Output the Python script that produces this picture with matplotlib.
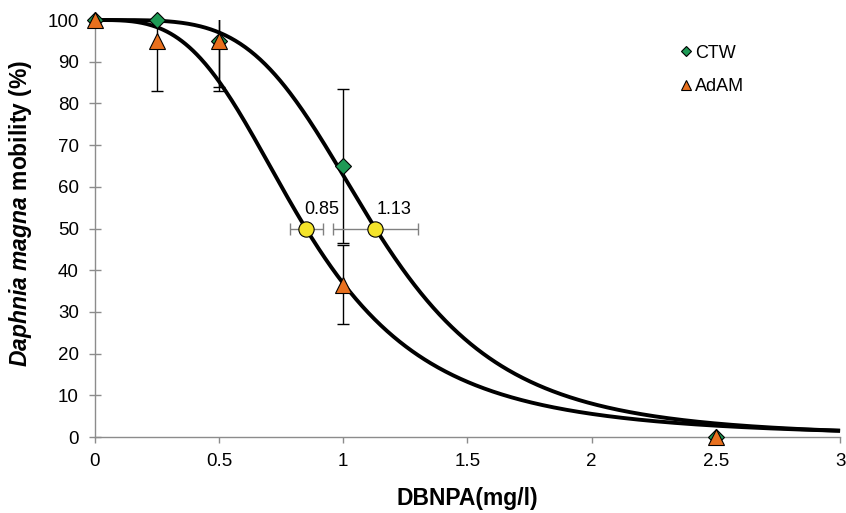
import numpy as np
import matplotlib
matplotlib.use("Agg")
import matplotlib.pyplot as plt

plt.rcParams['font.family'] = ['Liberation Sans', 'DejaVu Sans']
plt.rcParams['mathtext.fontset'] = 'custom'
plt.rcParams['mathtext.bfit'] = 'Liberation Sans:bold:italic'
plt.rcParams['mathtext.rm'] = 'Liberation Sans'
plt.rcParams['mathtext.it'] = 'Liberation Sans:italic'
plt.rcParams['mathtext.bf'] = 'Liberation Sans:bold'

# Observed data
conc = [0, 0.25, 0.5, 1, 2.5]
ctw = [100, 100, 95, 65, 0]
ctw_err = [0, 0, 11, 18.5, 0]
adam = [100, 95, 95, 36.5, 0]
adam_err = [0, 12, 12, 9.5, 0]

# Fitted log-logistic curves: EC50 and Hill slope
ctw_ec50, ctw_slope = 1.13, 4.27
adam_ec50, adam_slope = 0.85, 3.31

# EC50 points with horizontal confidence bars
ec50_x = [0.85, 1.13]
ec50_lo = [0.785, 0.958]
ec50_hi = [0.918, 1.30]
ec50_labels = ["0.85", "1.13"]

fig = plt.figure(figsize=(8.46, 5.13), dpi=100)
ax = fig.add_axes([0.112, 0.148, 0.881, 0.813])

xs = np.linspace(0.0001, 3, 600)
for ec, s in [(ctw_ec50, ctw_slope), (adam_ec50, adam_slope)]:
    ax.plot(xs, 100 / (1 + (xs / ec) ** s), color='black', lw=2.8, zorder=3,
            clip_on=False, solid_capstyle='butt')

ebkw = dict(ecolor='black', elinewidth=1.0, capsize=4, capthick=1.0, ls='none')
ax.errorbar(conc, ctw, yerr=ctw_err, fmt='none', zorder=2, **ebkw)
ax.errorbar(conc, adam, yerr=adam_err, fmt='none', zorder=2, **ebkw)

ax.plot(conc, ctw, 'D', color='#1e9a55', mec='black', mew=0.8, ms=8, zorder=4,
        clip_on=False, label='CTW')
ax.plot(conc, adam, '^', color='#e8701e', mec='black', mew=0.8, ms=11, zorder=5,
        clip_on=False, label='AdAM')

# EC50 markers
for x, lo, hi in zip(ec50_x, ec50_lo, ec50_hi):
    ax.errorbar([x], [50], xerr=[[x - lo], [hi - x]], fmt='none', ecolor='#808080',
                elinewidth=1.0, capsize=4, capthick=1.0, zorder=4)
    ax.plot([x], [50], 'o', color='#f4e42a', mec='black', mew=0.8, ms=11, zorder=6)
ax.text(0.913, 52.5, ec50_labels[0], ha='center', va='bottom', fontsize=13)
ax.text(1.205, 52.5, ec50_labels[1], ha='center', va='bottom', fontsize=13)

ax.set_xlim(0, 3)
ax.set_ylim(0, 100)
ax.set_xticks([0, 0.5, 1, 1.5, 2, 2.5, 3])
ax.set_xticklabels(['0', '0.5', '1', '1.5', '2', '2.5', '3'])
ax.set_yticks(range(0, 101, 10))
for side in ['top', 'right']:
    ax.spines[side].set_visible(False)
for side in ['left', 'bottom']:
    ax.spines[side].set_color('#8c8c8c')
    ax.spines[side].set_linewidth(1.0)
ax.tick_params(axis='x', direction='out', color='#8c8c8c', length=4.5, width=1.0,
               labelsize=13.5, pad=7)
ax.tick_params(axis='y', direction='inout', color='#8c8c8c', length=9, width=1.0,
               labelsize=13.5, pad=7)

ax.set_xlabel('DBNPA(mg/l)', fontsize=16.5, fontweight='bold', labelpad=12)
ax.set_ylabel(r'$\bfit{Daphnia\ magna}$' + ' mobility (%)', fontsize=16.5,
              fontweight='bold')
ax.yaxis.set_label_coords(-0.082, 0.537)

leg = ax.legend(loc='upper left', bbox_to_anchor=(0.766, 0.98), frameon=False,
                fontsize=13, handlelength=0.5, handletextpad=0.25, labelspacing=0.9,
                numpoints=1, markerscale=0.7)

fig.savefig('out.png', dpi=100)
